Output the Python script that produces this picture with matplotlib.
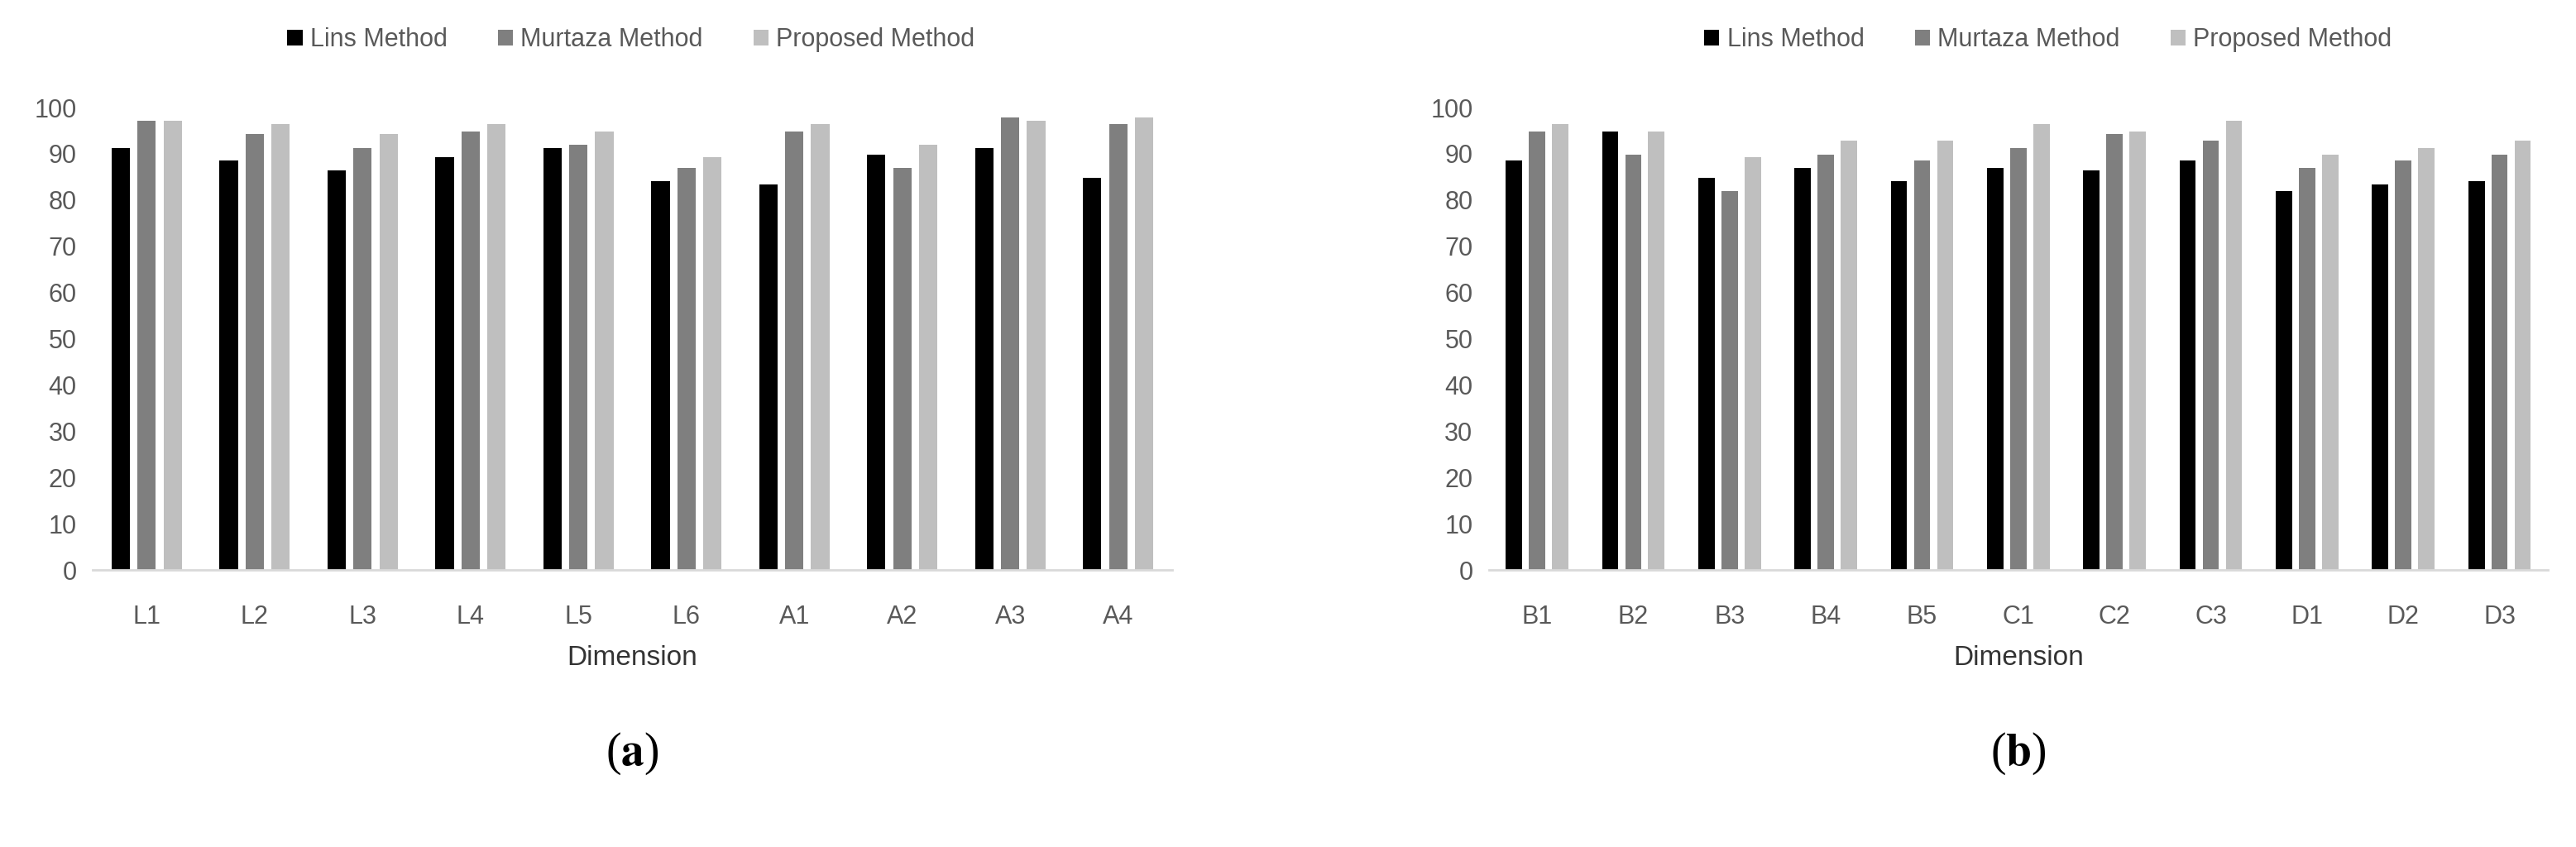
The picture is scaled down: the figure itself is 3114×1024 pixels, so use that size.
import numpy as np
import matplotlib.pyplot as plt

plt.rcParams['font.family'] = ['Liberation Sans Narrow', 'Liberation Sans', 'DejaVu Sans']
plt.rcParams['mathtext.fontset'] = 'stix'

series = ['Lins Method', 'Murtaza Method', 'Proposed Method']
colors = ['#000000', '#7f7f7f', '#bfbfbf']

cats_a = ['L1', 'L2', 'L3', 'L4', 'L5', 'L6', 'A1', 'A2', 'A3', 'A4']
lins_a = [91.3, 88.5, 86.4, 89.2, 91.3, 84.1, 83.3, 89.9, 91.3, 84.8]
murt_a = [97.2, 94.3, 91.3, 94.9, 92.0, 87.0, 94.9, 87.0, 97.9, 96.4]
prop_a = [97.2, 96.4, 94.3, 96.4, 94.9, 89.2, 96.4, 92.0, 97.2, 97.9]

cats_b = ['B1', 'B2', 'B3', 'B4', 'B5', 'C1', 'C2', 'C3', 'D1', 'D2', 'D3']
lins_b = [88.5, 94.9, 84.8, 87.0, 84.1, 87.0, 86.4, 88.5, 82.0, 83.3, 84.1]
murt_b = [94.9, 89.9, 82.0, 89.9, 88.5, 91.3, 94.3, 92.8, 87.0, 88.5, 89.9]
prop_b = [96.4, 94.9, 89.2, 92.8, 92.8, 96.4, 94.9, 97.2, 89.9, 91.3, 92.8]

fig = plt.figure(figsize=(31.14, 10.24), dpi=100)


def draw_panel(rect, cats, data, letter, legx):
    ax = fig.add_axes(rect)
    x = np.arange(len(cats))
    w = 0.17
    for i, (vals, c, name) in enumerate(zip(data, colors, series)):
        ax.bar(x + (i - 1) * (w + 0.07), vals, w, color=c, label=name, zorder=2)
    ax.set_xlim(-0.5, len(cats) - 0.5)
    ax.set_ylim(0, 100)
    ax.set_yticks(range(0, 101, 10))
    ax.set_xticks(x)
    ax.set_xticklabels(cats)
    for s in ['top', 'right', 'left']:
        ax.spines[s].set_visible(False)
    ax.spines['bottom'].set_color('#d9d9d9')
    ax.spines['bottom'].set_linewidth(2)
    ax.tick_params(length=0, labelsize=22, labelcolor='#595959', pad=14)
    ax.tick_params(axis='x', pad=30)
    ax.set_xlabel('Dimension', fontsize=24, color='#333333', labelpad=14)
    fig.legend(*ax.get_legend_handles_labels(), loc='center', bbox_to_anchor=(legx, 0.953),
               ncol=3, frameon=False, fontsize=22, labelcolor='#595959',
               handlelength=0.6, handleheight=0.6, handletextpad=0.3, columnspacing=2.0)
    fig.text(rect[0] + rect[2] / 2, 0.11, '($\\mathbf{' + letter + '}$)', ha='center', va='center',
             fontsize=40, family='Liberation Serif')


draw_panel([0.036, 0.327, 0.419, 0.546], cats_a, [lins_a, murt_a, prop_a], 'a', 0.245)
draw_panel([0.578, 0.327, 0.411, 0.546], cats_b, [lins_b, murt_b, prop_b], 'b', 0.795)

fig.savefig('out.png', dpi=100, facecolor='white')
